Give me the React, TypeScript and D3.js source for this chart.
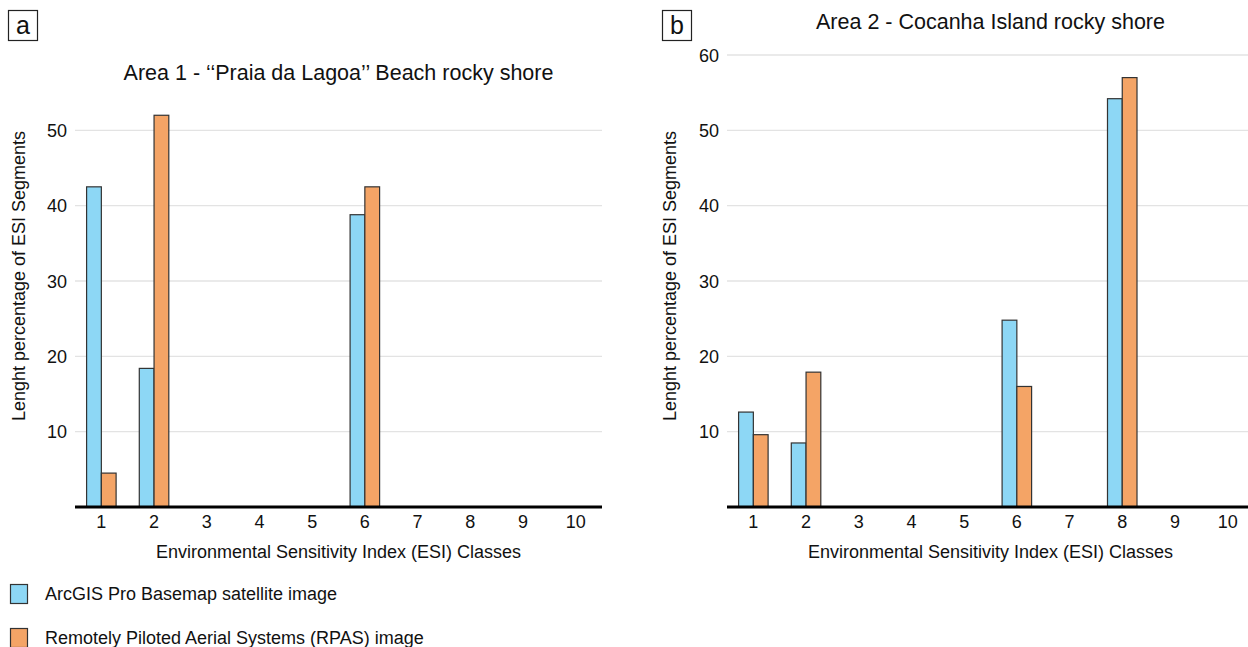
import React from 'react';
import * as d3 from 'd3';

const categories = ['1', '2', '3', '4', '5', '6', '7', '8', '9', '10'];
const seriesNames = ['ArcGIS Pro Basemap satellite image', 'Remotely Piloted Aerial Systems (RPAS) image'];
const seriesColors = ['#8dd7f5', '#f4a466'];

const area1Arcgis = [42.5, 18.4, 0, 0, 0, 38.8, 0, 0, 0, 0];
const area1Rpas = [4.5, 52.0, 0, 0, 0, 42.5, 0, 0, 0, 0];
const area2Arcgis = [12.6, 8.5, 0, 0, 0, 24.8, 0, 54.2, 0, 0];
const area2Rpas = [9.6, 17.9, 0, 0, 0, 16.0, 0, 57.0, 0, 0];

const area1Ticks = [10, 20, 30, 40, 50];
const area2Ticks = [10, 20, 30, 40, 50, 60];

const FONT = '"Liberation Sans", Arial, sans-serif';
const W = 1248;
const H = 647;

type PanelProps = {
  letter: string;
  title: string;
  titleY: number;
  bandStart: number;
  yTitleX: number;
  ticks: number[];
  arcgis: number[];
  rpas: number[];
};

const yScale = d3.scaleLinear().domain([0, 60]).range([507, 55]);

function Panel(p: PanelProps) {
  const x = d3.scaleBand().domain(categories).range([p.bandStart, p.bandStart + 527]).paddingInner(0.44).paddingOuter(0.22);
  const sub = d3.scaleBand().domain(['a', 'b']).range([0, x.bandwidth()]);
  const cx = p.bandStart + 263.5;
  const end = Math.min(p.bandStart + 527, W);
  const rows = categories.map((c, i) => ({ c, vals: [p.arcgis[i], p.rpas[i]] }));
  const boxX = p.letter === 'a' ? 8.5 : 662.5;
  return (
    <g>
      <rect x={boxX} y={10.5} width={29} height={30} fill="#fff" stroke="#222" strokeWidth={1.2} />
      <text x={boxX + 14.5} y={34} textAnchor="middle" fontSize={25} fontFamily={FONT} fill="#111">
        {p.letter}
      </text>
      <text x={cx} y={p.titleY} textAnchor="middle" fontSize={21.5} fontFamily={FONT} fill="#111">
        {p.title}
      </text>
      {p.ticks.map((t) => (
        <g key={t}>
          <line x1={p.bandStart} x2={end} y1={yScale(t)} y2={yScale(t)} stroke="#e3e3e3" strokeWidth={1.3} />
          <text x={p.bandStart - 8} y={yScale(t) + 6.5} textAnchor="end" fontSize={18} fontFamily={FONT} fill="#111">
            {t}
          </text>
        </g>
      ))}
      {rows.map((r) =>
        r.vals.map((v, j) =>
          v > 0 ? (
            <rect
              key={r.c + j}
              x={(x(r.c) as number) + (sub(j === 0 ? 'a' : 'b') as number)}
              y={yScale(v)}
              width={sub.bandwidth()}
              height={yScale(0) - yScale(v)}
              fill={seriesColors[j]}
              stroke="#333"
              strokeWidth={1.2}
            />
          ) : null
        )
      )}
      <line x1={p.bandStart} x2={end} y1={yScale(0)} y2={yScale(0)} stroke="#000" strokeWidth={3} />
      {categories.map((c) => (
        <text key={c} x={(x(c) as number) + x.bandwidth() / 2} y={528} textAnchor="middle" fontSize={18} fontFamily={FONT} fill="#111">
          {c}
        </text>
      ))}
      <text x={cx} y={558} textAnchor="middle" fontSize={18} fontFamily={FONT} fill="#111">
        Environmental Sensitivity Index (ESI) Classes
      </text>
      <text
        transform={`translate(${p.yTitleX},${yScale(30) - 5}) rotate(-90)`}
        textAnchor="middle"
        fontSize={18}
        fontFamily={FONT}
        fill="#111"
      >
        Lenght percentage of ESI Segments
      </text>
    </g>
  );
}

export default function App() {
  return (
    <svg width={W} height={H} style={{ position: 'absolute', left: 0, top: 0, background: '#fff' }}>
      <rect width={W} height={H} fill="#fff" />
      <Panel
        letter="a"
        title="Area 1 - ‘‘Praia da Lagoa’’ Beach rocky shore"
        titleY={80}
        bandStart={75}
        yTitleX={25}
        ticks={area1Ticks}
        arcgis={area1Arcgis}
        rpas={area1Rpas}
      />
      <Panel
        letter="b"
        title="Area 2 - Cocanha Island rocky shore"
        titleY={29}
        bandStart={727}
        yTitleX={676}
        ticks={area2Ticks}
        arcgis={area2Arcgis}
        rpas={area2Rpas}
      />
      {seriesNames.map((s, i) => (
        <g key={s} transform={`translate(0,${584 + i * 44})`}>
          <rect x={10.5} y={0.5} width={17} height={19} fill={seriesColors[i]} stroke="#333" strokeWidth={1.2} />
          <text x={45} y={15.5} fontSize={18} fontFamily={FONT} fill="#111">
            {s}
          </text>
        </g>
      ))}
    </svg>
  );
}
